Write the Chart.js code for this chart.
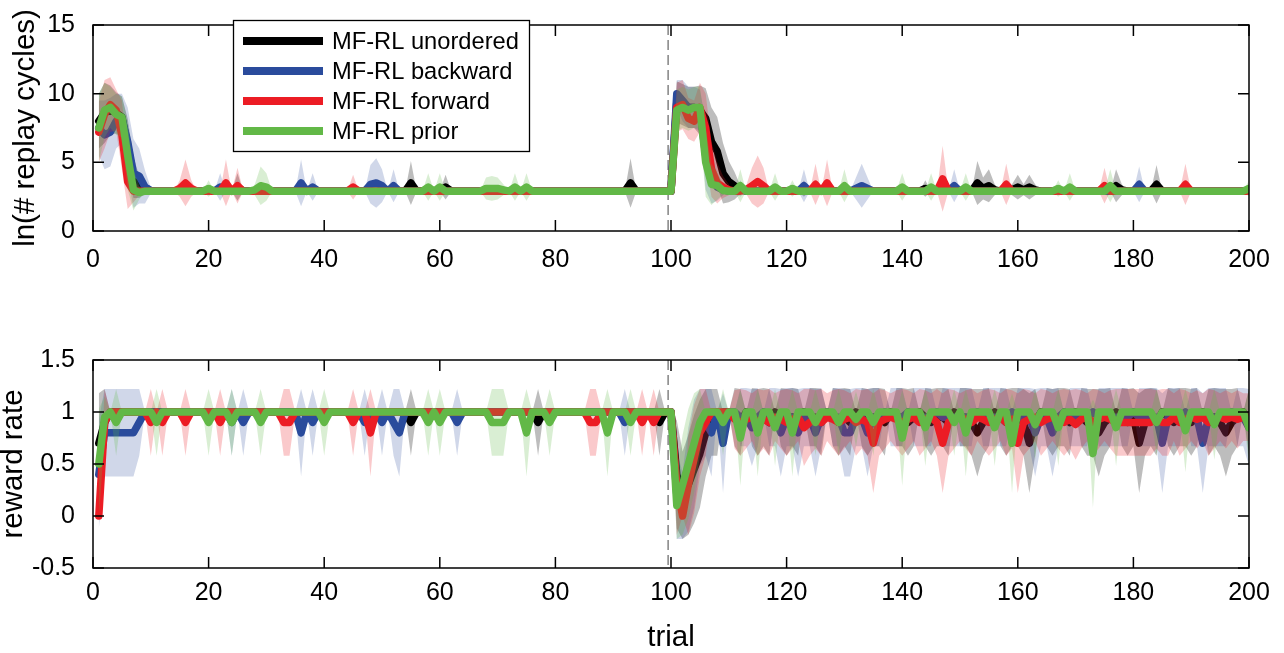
<!DOCTYPE html>
<html><head><meta charset="utf-8">
<script src="https://cdn.jsdelivr.net/npm/chart.js@4.4.1/dist/chart.umd.min.js"></script>
<style>
html,body{margin:0;padding:0;background:#fff;}
#wrap{position:relative;width:1284px;height:653px;overflow:hidden;background:#fff;}
canvas{position:absolute;left:0;}
#c1{top:0;}
#c2{top:300px;}
</style></head><body>
<div id="wrap"><canvas id="c1" width="1284" height="272"></canvas><canvas id="c2" width="1284" height="353"></canvas></div>
<script>
// ---------- DATA ----------
const trials = [1,2,3,4,5,6,7,8,9,10,11,12,13,14,15,16,17,18,19,20,21,22,23,24,25,26,27,28,29,30,31,32,33,34,35,36,37,38,39,40,41,42,43,44,45,46,47,48,49,50,51,52,53,54,55,56,57,58,59,60,61,62,63,64,65,66,67,68,69,70,71,72,73,74,75,76,77,78,79,80,81,82,83,84,85,86,87,88,89,90,91,92,93,94,95,96,97,98,99,100,101,102,103,104,105,106,107,108,109,110,111,112,113,114,115,116,117,118,119,120,121,122,123,124,125,126,127,128,129,130,131,132,133,134,135,136,137,138,139,140,141,142,143,144,145,146,147,148,149,150,151,152,153,154,155,156,157,158,159,160,161,162,163,164,165,166,167,168,169,170,171,172,173,174,175,176,177,178,179,180,181,182,183,184,185,186,187,188,189,190,191,192,193,194,195,196,197,198,199,200];
const trialTicks = [0,20,40,60,80,100,120,140,160,180,200];
const replayTicks = [0,5,10,15];
const rewardTicks = [-0.5,0,0.5,1,1.5];
const boundaryTrial = 99.5;
const seriesNames = ['MF-RL unordered','MF-RL backward','MF-RL forward','MF-RL prior'];

// ln(# replay cycles): means
const replayUnordered = [8.0,8.6,8.8,8.6,8.3,6.2,3.9,3.2,3.0,2.9,
2.9,2.9,2.9,2.9,2.9,2.9,2.9,2.9,2.9,2.9,
2.9,2.9,2.9,2.9,3.2,2.9,2.9,2.9,2.9,2.9,
2.9,2.9,2.9,2.9,2.9,2.9,2.9,2.9,2.9,2.9,
2.9,2.9,2.9,2.9,2.9,2.9,2.9,2.9,2.9,2.9,
2.9,2.9,2.9,2.9,3.5,2.9,2.9,2.9,2.9,2.9,
3.2,2.9,2.9,2.9,2.9,2.9,2.9,2.9,2.9,2.9,
2.9,2.9,2.9,2.9,2.9,2.9,2.9,2.9,2.9,2.9,
2.9,2.9,2.9,2.9,2.9,2.9,2.9,2.9,2.9,2.9,
2.9,2.9,3.5,2.9,2.9,2.9,2.9,2.9,2.9,2.9,
9.4,9.2,9.0,9.0,8.8,8.2,6.5,5.8,4.2,3.6,
3.3,3.0,2.9,2.9,2.9,2.9,2.9,2.9,2.9,2.9,
2.9,2.9,3.1,2.9,2.9,2.9,2.9,2.9,2.9,2.9,
2.9,2.9,2.9,2.9,2.9,2.9,2.9,2.9,2.9,2.9,
2.9,2.9,2.9,3.1,2.9,2.9,2.9,2.9,2.9,2.9,
2.9,2.9,3.5,3.1,3.3,3.0,2.9,2.9,3.0,3.2,
3.0,3.2,3.0,2.9,2.9,2.9,2.9,2.9,2.9,2.9,
2.9,2.9,2.9,2.9,2.9,2.9,3.3,3.0,2.9,2.9,
2.9,2.9,2.9,3.4,2.9,2.9,2.9,2.9,2.9,2.9,
2.9,2.9,2.9,2.9,2.9,2.9,2.9,2.9,2.9,2.9];
const replayBackward = [7.5,7.0,7.2,8.0,8.2,6.5,4.2,4.0,3.2,2.95,
2.9,2.9,2.9,2.9,2.9,2.9,2.9,2.9,2.9,2.9,
2.9,3.2,2.9,2.9,2.9,2.9,2.9,2.9,2.9,2.9,
2.9,2.9,2.9,2.9,2.9,3.5,2.9,3.2,2.9,2.9,
2.9,2.9,2.9,2.9,2.9,2.9,2.9,3.4,3.5,3.3,
2.9,3.3,2.9,2.9,2.9,2.9,2.9,2.9,2.9,2.9,
2.9,2.9,2.9,2.9,2.9,2.9,2.9,2.9,2.9,2.9,
2.9,2.9,2.9,2.9,2.9,2.9,2.9,2.9,2.9,2.9,
2.9,2.9,2.9,2.9,2.9,2.9,2.9,2.9,2.9,2.9,
2.9,2.9,2.9,2.9,2.9,2.9,2.9,2.9,2.9,2.9,
10.0,9.5,9.0,9.0,8.8,5.5,3.8,3.2,3.0,2.9,
2.9,3.1,2.9,2.9,2.9,2.9,2.9,2.9,2.9,2.9,
2.9,2.9,3.3,2.9,2.9,2.9,2.9,2.9,2.9,2.9,
2.9,3.1,3.3,3.1,2.9,2.9,2.9,2.9,2.9,2.9,
2.9,2.9,2.9,2.9,2.9,2.9,2.9,2.9,3.3,2.9,
2.9,2.9,2.9,2.9,2.9,2.9,2.9,2.9,2.9,2.9,
2.9,2.9,2.9,2.9,2.9,2.9,2.9,2.9,2.9,2.9,
2.9,2.9,2.9,2.9,2.9,2.9,2.9,2.9,2.9,2.9,
3.4,2.9,2.9,2.9,2.9,2.9,2.9,2.9,2.9,2.9,
2.9,2.9,2.9,2.9,2.9,2.9,2.9,2.9,2.9,2.9];
const replayForward = [7.2,8.5,9.2,8.8,7.0,3.6,2.9,2.9,2.9,2.9,
2.9,2.9,2.9,2.9,3.1,3.5,3.1,2.9,2.9,2.9,
2.9,2.9,3.5,2.9,3.3,2.9,2.9,2.9,2.9,2.9,
2.9,2.9,2.9,2.9,2.9,2.9,2.9,2.9,2.9,2.9,
2.9,2.9,2.9,2.9,3.2,2.9,2.9,2.9,2.9,2.9,
2.9,2.9,2.9,2.9,2.9,2.9,2.9,2.9,2.9,2.9,
2.9,2.9,2.9,2.9,2.9,2.9,2.9,2.9,2.9,2.9,
2.9,2.9,2.9,2.9,2.9,2.9,2.9,2.9,2.9,2.9,
2.9,2.9,2.9,2.9,2.9,2.9,2.9,2.9,2.9,2.9,
2.9,2.9,2.9,2.9,2.9,2.9,2.9,2.9,2.9,2.9,
9.0,9.2,8.2,8.0,9.0,7.5,4.5,3.5,3.2,3.0,
2.9,2.9,3.0,3.3,3.6,3.3,2.9,2.9,2.9,2.9,
2.9,2.9,2.9,2.9,3.4,2.9,3.5,2.9,2.9,2.9,
2.9,2.9,2.9,2.9,2.9,2.9,2.9,2.9,2.9,2.9,
2.9,2.9,2.9,2.9,2.9,2.9,3.8,2.9,2.9,2.9,
2.9,2.9,2.9,2.9,2.9,2.9,2.9,3.4,2.9,2.9,
2.9,2.9,2.9,2.9,2.9,2.9,2.9,2.9,2.9,2.9,
2.9,2.9,2.9,2.9,3.3,2.9,2.9,2.9,2.9,2.9,
2.9,2.9,2.9,2.9,2.9,2.9,2.9,2.9,3.4,2.9,
2.9,2.9,2.9,2.9,2.9,2.9,2.9,2.9,2.9,2.9];
const replayPrior = [7.5,8.8,9.0,8.5,8.3,5.5,3.0,2.8,2.9,2.9,
2.9,2.9,2.9,2.9,2.9,2.9,2.9,2.9,2.9,3.1,
2.9,2.9,2.9,2.9,2.9,2.9,2.9,3.0,3.3,3.2,
2.9,2.9,2.9,2.9,2.9,2.9,2.9,2.9,2.9,2.9,
2.9,2.9,2.9,2.9,2.9,2.9,2.9,2.9,2.9,2.9,
2.9,2.9,2.9,2.9,2.9,2.9,2.9,3.2,2.9,3.2,
2.9,2.9,2.9,2.9,2.9,2.9,2.9,3.1,3.1,3.1,
3.0,2.9,3.2,2.9,3.2,2.9,2.9,2.9,2.9,2.9,
2.9,2.9,2.9,2.9,2.9,2.9,2.9,2.9,2.9,2.9,
2.9,2.9,2.9,2.9,2.9,2.9,2.9,2.9,2.9,2.9,
8.8,9.0,8.8,9.0,9.0,5.0,3.4,3.3,2.95,2.9,
2.9,3.3,2.9,2.9,2.9,2.9,2.9,3.2,2.9,2.9,
3.1,2.9,2.9,2.9,2.9,2.9,2.9,2.9,2.9,3.3,
2.9,2.9,2.9,2.9,2.9,2.9,2.9,2.9,2.9,3.2,
2.9,2.9,2.9,2.9,3.2,2.9,2.9,2.9,2.9,2.9,
3.2,2.9,2.9,2.9,2.9,2.9,2.9,2.9,2.9,2.9,
2.9,2.9,2.9,2.9,2.9,2.9,3.1,2.9,3.2,2.9,
2.9,2.9,2.9,2.9,2.9,3.3,2.9,2.9,2.9,2.9,
2.9,2.9,2.9,2.9,2.9,2.9,2.9,2.9,2.9,2.9,
2.9,2.9,2.9,2.9,2.9,2.9,2.9,2.9,2.9,3.1];

// ln(# replay cycles): spread (half-width of shaded band)
const replayUnorderedSd = [2.0,2.2,1.8,1.5,1.5,2.0,1.5,0.8,0.3,0,
0,0,0,0,0,0,0,0,0,0,
0,0,0,0,1.0,0,0,0,0,0,
0,0,0,0,0,0,0,0,0,0,
0,0,0,0,0,0,0,0,0,0,
0,0,0,0,1.6,0,0,0,0,0,
0.9,0,0,0,0,0,0,0,0,0,
0,0,0,0,0,0,0,0,0,0,
0,0,0,0,0,0,0,0,0,0,
0,0,1.8,0,0,0,0,0,0,0,
1.5,1.5,1.5,1.5,1.8,2.2,2.5,2.5,2.2,1.5,
1.0,0.3,0,0,0,0,0,0,0,0,
0,0,0.6,0,0,0,0,0,0,0,
0,0,0,0,0,0,0,0,0,0,
0,0,0,0.6,0,0,0,0,0,0,
0,0,1.6,0.8,1.2,0.4,0,0,0.4,0.9,
0.4,0.9,0.4,0,0,0,0,0,0,0,
0,0,0,0,0,0,1.2,0.4,0,0,
0,0,0,1.4,0,0,0,0,0,0,
0,0,0,0,0,0,0,0,0,0];
const replayBackwardSd = [2.0,2.5,2.5,2.0,1.8,2.5,2.5,2.0,1.2,0.2,
0,0,0,0,0,0,0,0,0,0,
0,1.0,0,0,0,0,0,0,0,0,
0,0,0,0,0,1.7,0,1.0,0,0,
0,0,0,0,0,0,0,1.4,1.8,1.2,
0,1.2,0,0,0,0,0,0,0,0,
0,0,0,0,0,0,0,0,0,0,
0,0,0,0,0,0,0,0,0,0,
0,0,0,0,0,0,0,0,0,0,
0,0,0,0,0,0,0,0,0,0,
1.0,1.5,1.5,1.5,1.5,2.5,1.8,1.0,0.4,0,
0,0.6,0,0,0,0,0,0,0,0,
0,0,1.2,0,0,0,0,0,0,0,
0,0.8,1.6,0.8,0,0,0,0,0,0,
0,0,0,0,0,0,0,0,1.2,0,
0,0,0,0,0,0,0,0,0,0,
0,0,0,0,0,0,0,0,0,0,
0,0,0,0,0,0,0,0,0,0,
1.3,0,0,0,0,0,0,0,0,0,
0,0,0,0,0,0,0,0,0,0];
const replayForwardSd = [2.2,2.5,2.0,1.5,2.5,2.0,0.8,0.3,0,0,
0,0,0,0,0.6,1.7,0.6,0,0,0,
0,0,1.7,0,1.3,0,0,0,0,0,
0,0,0,0,0,0,0,0,0,0,
0,0,0,0,0.9,0,0,0,0,0,
0,0,0,0,0,0,0,0,0,0,
0,0,0,0,0,0,0,0,0,0,
0,0,0,0,0,0,0,0,0,0,
0,0,0,0,0,0,0,0,0,0,
0,0,0,0,0,0,0,0,0,0,
1.8,1.8,1.5,1.5,1.8,2.5,2.0,1.5,0.8,0.4,
0,0,0.3,1.3,1.9,1.3,0,0,0,0,
0,0,0,0,1.5,0,1.7,0,0,0,
0,0,0,0,0,0,0,0,0,0,
0,0,0,0,0,0,2.4,0,0,0,
0,0,0,0,0,0,0,1.5,0,0,
0,0,0,0,0,0,0,0,0,0,
0,0,0,0,1.3,0,0,0,0,0,
0,0,0,0,0,0,0,0,1.5,0,
0,0,0,0,0,0,0,0,0,0];
const replayPriorSd = [2.5,2.0,1.5,1.5,1.5,2.5,1.5,0.5,0,0,
0,0,0,0,0,0,0,0,0,0.6,
0,0,0,0,0,0,0,0.4,1.4,1.0,
0,0,0,0,0,0,0,0,0,0,
0,0,0,0,0,0,0,0,0,0,
0,0,0,0,0,0,0,1.0,0,1.0,
0,0,0,0,0,0,0,0.8,0.9,0.8,
0.4,0,1.0,0,1.0,0,0,0,0,0,
0,0,0,0,0,0,0,0,0,0,
0,0,0,0,0,0,0,0,0,0,
1.5,1.5,1.5,1.5,1.5,2.5,1.5,1.0,0.3,0,
0,1.2,0,0,0,0,0,1.0,0,0,
0.6,0,0,0,0,0,0,0,0,1.2,
0,0,0,0,0,0,0,0,0,1.0,
0,0,0,0,1.0,0,0,0,0,0,
1.0,0,0,0,0,0,0,0,0,0,
0,0,0,0,0,0,0.6,0,1.0,0,
0,0,0,0,0,1.2,0,0,0,0,
0,0,0,0,0,0,0,0,0,0,
0,0,0,0,0,0,0,0,0,0.6];

// reward rate: means
const rewardUnordered = [0.7,0.9,1,1,1,1,1,1,1,1,
1,1,1,1,1,1,1,1,1,1,
1,1,1,1,1,1,1,1,1,1,
1,1,1,1,1,1,1,1,1,1,
1,1,1,1,1,1,1,1,1,1,
1,1,1,1,0.9,1,1,1,1,1,
1,1,1,1,1,1,1,1,1,1,
1,1,1,1,1,1,0.9,1,1,1,
1,1,1,1,1,1,1,1,1,1,
1,1,1,1,1,1,1,0.9,1,1,
0.4,0.2,0.3,0.45,0.6,0.8,0.9,0.9,1,1,
0.95,0.9,1,0.95,0.9,0.95,0.9,1,0.95,0.9,
0.95,0.9,1,0.95,0.95,0.9,1,0.95,0.9,0.95,
0.9,1,0.95,0.9,0.95,0.95,0.9,1,0.95,0.95,
0.9,0.95,1,0.95,0.9,0.95,0.95,0.9,1,0.95,
0.95,0.9,0.8,0.9,0.95,1,0.95,0.9,0.95,0.95,
0.9,0.7,0.9,1,0.95,0.9,0.95,0.95,0.9,1,
0.95,0.9,0.9,0.8,0.9,0.95,1,0.95,0.9,0.95,
0.7,0.9,0.95,0.9,1,0.95,0.9,0.95,0.95,0.9,
0.95,1,0.9,0.95,0.9,0.8,0.9,0.95,1,0.9];
const rewardBackward = [0.4,0.8,0.8,0.8,0.8,0.8,0.8,0.9,1,1,
1,1,1,1,1,1,1,1,1,1,
1,1,1,0.9,1,0.9,1,1,1,1,
1,1,1,1,1,0.8,1,0.9,1,1,
1,1,1,1,1,1,0.9,1,1,0.9,
1,0.9,0.8,1,1,1,1,1,1,1,
1,1,0.9,1,1,1,1,1,1,1,
1,1,1,1,1,1,1,1,1,1,
1,1,1,1,1,1,1,1,1,1,
1,0.9,1,1,1,1,1,1,1,1,
0.2,0.1,0.35,0.6,0.85,0.9,0.8,1,0.7,1,
1,0.95,0.95,0.85,0.95,1,0.95,0.95,0.8,0.95,
0.95,0.8,0.95,0.95,0.8,0.95,1,0.95,0.95,0.8,
0.8,0.95,0.95,0.8,0.95,0.95,1,0.95,0.95,0.95,
1,0.95,0.95,0.95,0.95,1,0.95,0.95,0.95,0.95,
0.95,0.95,1,0.95,0.95,0.95,0.95,0.95,1,0.95,
0.95,0.95,0.8,0.95,0.95,0.8,0.95,1,0.95,0.95,
0.95,0.95,1,0.95,0.95,0.95,0.95,0.95,0.95,1,
0.95,0.95,0.95,0.95,0.7,0.95,0.95,0.95,1,0.95,
0.95,0.7,0.95,0.95,0.95,0.95,1,0.95,0.95,0.85];
const rewardForward = [0.0,0.9,1,1,1,1,1,1,1,0.9,
1,0.9,1,1,1,0.9,1,1,1,1,
1,0.9,1,1,1,1,1,1,1,1,
1,1,0.9,0.9,1,1,1,1,1,1,
1,1,1,1,0.9,1,1,0.8,1,1,
1,1,1,1,1,1,1,1,1,1,
1,1,1,1,1,1,1,1,1,1,
1,1,1,1,1,1,1,1,1,1,
1,1,1,1,1,0.9,0.9,1,1,1,
1,1,1,1,0.9,1,0.9,1,1,1,
0.3,0.0,0.3,0.55,0.8,0.9,1,1,1,1,
0.93,0.9,0.93,0.95,0.9,0.93,0.9,0.95,0.93,0.9,
0.93,0.95,0.85,0.9,0.93,0.9,0.95,0.93,0.9,0.93,
0.95,0.9,0.93,0.9,0.7,0.9,0.93,0.95,0.93,0.9,
0.93,0.95,0.9,0.93,0.95,0.9,0.7,0.9,0.93,0.95,
0.93,0.9,0.95,0.93,0.9,0.93,0.95,0.9,0.93,0.7,
0.9,0.93,0.95,0.9,0.93,0.95,0.93,0.9,0.93,0.88,
0.93,0.95,0.9,0.93,0.95,0.93,0.9,0.9,0.9,0.9,
0.9,0.9,0.9,0.93,0.9,0.9,0.95,0.9,0.93,0.95,
0.93,0.95,0.9,0.93,0.95,0.93,0.95,0.93,0.95,0.95];
const rewardPrior = [0.5,0.95,1,0.9,1,1,1,1,1,1,
0.9,1,1,1,1,1,1,1,1,0.9,
1,1,1,0.9,1,1,1,1,0.9,1,
1,1,1,1,1,1,1,1,1,0.9,
1,1,1,1,1,1,1,1,1,1,
1,1,1,1,1,1,1,0.9,1,0.9,
1,1,1,1,1,1,1,1,0.9,0.9,
0.9,1,1,1,0.8,1,1,1,0.9,1,
1,1,1,1,1,1,1,1,0.8,1,
1,1,0.9,1,1,1,1,1,1,1,
0.1,0.3,0.5,0.7,0.9,1,1,1,0.9,1,
1,0.75,1,1,0.8,1,1,0.85,1,1,
0.8,1,1,1,0.9,1,1,1,0.9,1,
1,0.93,1,1,0.9,1,1,1,1,0.75,
1,1,1,0.85,1,1,1,1,0.9,1,
0.8,1,1,1,1,0.85,1,1,0.7,1,
1,1,0.88,1,1,1,0.85,1,1,1,
1,1,0.6,1,1,1,0.85,1,1,1,
1,1,1,0.9,1,1,1,1,0.82,1,
1,1,1,0.88,1,1,1,1,1,0.85];

// reward rate: spread (half-width of shaded band)
const rewardUnorderedSd = [0.48,0.32,0,0,0,0,0,0,0,0,
0,0,0,0,0,0,0,0,0,0,
0,0,0,0,0,0,0,0,0,0,
0,0,0,0,0,0,0,0,0,0,
0,0,0,0,0,0,0,0,0,0,
0,0,0,0,0.32,0,0,0,0,0,
0,0,0,0,0,0,0,0,0,0,
0,0,0,0,0,0,0.32,0,0,0,
0,0,0,0,0,0,0,0,0,0,
0,0,0,0,0,0,0,0.32,0,0,
0.52,0.42,0.48,0.52,0.52,0.42,0.32,0.32,0,0,
0.28,0.32,0,0.28,0.32,0.28,0.32,0,0.28,0.32,
0.28,0.32,0,0.28,0.28,0.32,0,0.28,0.32,0.28,
0.32,0,0.28,0.32,0.28,0.28,0.32,0,0.28,0.28,
0.32,0.28,0,0.28,0.32,0.28,0.28,0.32,0,0.28,
0.28,0.32,0.42,0.32,0.28,0,0.28,0.32,0.28,0.28,
0.32,0.48,0.32,0,0.28,0.32,0.28,0.28,0.32,0,
0.28,0.32,0.32,0.42,0.32,0.28,0,0.28,0.32,0.28,
0.48,0.32,0.28,0.32,0,0.28,0.32,0.28,0.28,0.32,
0.28,0,0.32,0.28,0.32,0.42,0.32,0.28,0,0.32];
const rewardBackwardSd = [0.52,0.42,0.42,0.42,0.42,0.42,0.42,0.32,0,0,
0,0,0,0,0,0,0,0,0,0,
0,0,0,0.32,0,0.32,0,0,0,0,
0,0,0,0,0,0.42,0,0.32,0,0,
0,0,0,0,0,0,0.32,0,0,0.32,
0,0.32,0.42,0,0,0,0,0,0,0,
0,0,0.32,0,0,0,0,0,0,0,
0,0,0,0,0,0,0,0,0,0,
0,0,0,0,0,0,0,0,0,0,
0,0.32,0,0,0,0,0,0,0,0,
0.42,0.32,0.5,0.52,0.37,0.32,0.42,0,0.48,0,
0,0.28,0.28,0.37,0.28,0,0.28,0.28,0.42,0.28,
0.28,0.42,0.28,0.28,0.42,0.28,0,0.28,0.28,0.42,
0.42,0.28,0.28,0.42,0.28,0.28,0,0.28,0.28,0.28,
0,0.28,0.28,0.28,0.28,0,0.28,0.28,0.28,0.28,
0.28,0.28,0,0.28,0.28,0.28,0.28,0.28,0,0.28,
0.28,0.28,0.42,0.28,0.28,0.42,0.28,0,0.28,0.28,
0.28,0.28,0,0.28,0.28,0.28,0.28,0.28,0.28,0,
0.28,0.28,0.28,0.28,0.48,0.28,0.28,0.28,0,0.28,
0.28,0.48,0.28,0.28,0.28,0.28,0,0.28,0.28,0.37];
const rewardForwardSd = [0,0.32,0,0,0,0,0,0,0,0.32,
0,0.32,0,0,0,0.32,0,0,0,0,
0,0.32,0,0,0,0,0,0,0,0,
0,0,0.32,0.32,0,0,0,0,0,0,
0,0,0,0,0.32,0,0,0.42,0,0,
0,0,0,0,0,0,0,0,0,0,
0,0,0,0,0,0,0,0,0,0,
0,0,0,0,0,0,0,0,0,0,
0,0,0,0,0,0.32,0.32,0,0,0,
0,0,0,0,0.32,0,0.32,0,0,0,
0.48,0,0.48,0.52,0.42,0.32,0,0,0,0,
0.28,0.32,0.28,0.23,0.32,0.28,0.32,0.23,0.28,0.32,
0.28,0.23,0.37,0.32,0.28,0.32,0.23,0.28,0.32,0.28,
0.23,0.32,0.28,0.32,0.48,0.32,0.28,0.23,0.28,0.32,
0.28,0.23,0.32,0.28,0.23,0.32,0.48,0.32,0.28,0.23,
0.28,0.32,0.23,0.28,0.32,0.28,0.23,0.32,0.28,0.48,
0.32,0.28,0.23,0.32,0.28,0.23,0.28,0.32,0.28,0.34,
0.28,0.23,0.32,0.28,0.23,0.28,0.32,0.32,0.32,0.32,
0.32,0.32,0.32,0.28,0.32,0.32,0.23,0.32,0.28,0.23,
0.28,0.23,0.32,0.28,0.23,0.28,0.23,0.28,0.23,0.23];
const rewardPriorSd = [0.53,0.2,0,0.32,0,0,0,0,0,0,
0.32,0,0,0,0,0,0,0,0,0.32,
0,0,0,0.32,0,0,0,0,0.32,0,
0,0,0,0,0,0,0,0,0,0.32,
0,0,0,0,0,0,0,0,0,0,
0,0,0,0,0,0,0,0.32,0,0.32,
0,0,0,0,0,0,0,0,0.32,0.32,
0.32,0,0,0,0.42,0,0,0,0.32,0,
0,0,0,0,0,0,0,0,0.42,0,
0,0,0.32,0,0,0,0,0,0,0,
0.32,0.48,0.53,0.48,0.32,0,0,0,0.32,0,
0,0.46,0,0,0.42,0,0,0.37,0,0,
0.42,0,0,0,0.32,0,0,0,0.32,0,
0,0.27,0,0,0.32,0,0,0,0,0.46,
0,0,0,0.37,0,0,0,0,0.32,0,
0.42,0,0,0,0,0.37,0,0,0.48,0,
0,0,0.34,0,0,0,0.37,0,0,0,
0,0,0.52,0,0,0,0.37,0,0,0,
0,0,0,0.32,0,0,0,0,0.4,0,
0,0,0,0.34,0,0,0,0,0,0.37];

// ---------- STYLE ----------
const FONT = '"Liberation Sans", Arial, Helvetica, sans-serif';
Chart.defaults.font.family = FONT;
const lineColors = ['#000000', '#2a4b9c', '#ec1c24', '#62b847'];
const bandColors = ['rgba(0,0,0,0.26)', 'rgba(42,75,156,0.22)', 'rgba(236,28,36,0.24)', 'rgba(98,184,71,0.24)'];

function buildDatasets(means, sds) {
  const sets = [];
  means.forEach((m, s) => {
    const sd = sds[s];
    const ord = (4 - s) * 2 - 1; // prior drawn last (on top)
    sets.push({label: seriesNames[s] + ' upper', data: m.map((v, i) => v + sd[i]), fill: '+1',
      backgroundColor: bandColors[s], borderColor: 'rgba(0,0,0,0)', borderWidth: 0, pointRadius: 0, order: ord + 1});
    sets.push({label: seriesNames[s] + ' lower', data: m.map((v, i) => v - sd[i]), fill: false,
      backgroundColor: 'rgba(0,0,0,0)', borderColor: 'rgba(0,0,0,0)', borderWidth: 0, pointRadius: 0, order: ord + 1});
    sets.push({label: seriesNames[s], data: m, fill: false, borderColor: lineColors[s], backgroundColor: lineColors[s],
      borderWidth: 7.5, pointRadius: 0, tension: 0, borderJoinStyle: 'round', borderCapStyle: 'round', order: ord});
  });
  return sets;
}

const framePlugin = {
  id: 'matlabFrame',
  beforeDatasetsDraw(chart) {
    const {ctx, chartArea: a, scales: {x}} = chart;
    const px = x.getPixelForValue(boundaryTrial);
    ctx.save();
    ctx.strokeStyle = '#707070'; ctx.lineWidth = 1.3; ctx.setLineDash([10, 5]);
    ctx.beginPath(); ctx.moveTo(px, a.top); ctx.lineTo(px, a.bottom); ctx.stroke();
    ctx.restore();
  },
  afterDatasetsDraw(chart) {
    const {ctx, chartArea: a, scales: {x, y}} = chart;
    const L = 11;
    ctx.save();
    ctx.strokeStyle = '#000'; ctx.lineWidth = 1.5; ctx.setLineDash([]);
    ctx.strokeRect(a.left, a.top, a.right - a.left, a.bottom - a.top);
    ctx.beginPath();
    x.ticks.forEach(t => { const p = x.getPixelForValue(t.value);
      ctx.moveTo(p, a.bottom); ctx.lineTo(p, a.bottom - L); ctx.moveTo(p, a.top); ctx.lineTo(p, a.top + L); });
    y.ticks.forEach(t => { const p = y.getPixelForValue(t.value);
      ctx.moveTo(a.left, p); ctx.lineTo(a.left + L, p); ctx.moveTo(a.right, p); ctx.lineTo(a.right - L, p); });
    ctx.stroke();
    ctx.restore();
  }
};

const legendPlugin = {
  id: 'boxLegend',
  afterDraw(chart) {
    const ctx = chart.ctx;
    const bx = 233, by = 20, bw = 296, bh = 131;
    ctx.save();
    ctx.fillStyle = '#fff'; ctx.fillRect(bx, by, bw, bh);
    ctx.strokeStyle = '#000'; ctx.lineWidth = 1.3; ctx.strokeRect(bx + 0.5, by + 0.5, bw, bh);
    ctx.font = '23.7px ' + FONT; ctx.textBaseline = 'middle'; ctx.textAlign = 'left';
    seriesNames.forEach((name, i) => {
      const yy = by + 21 + i * 30;
      ctx.strokeStyle = lineColors[i]; ctx.lineWidth = 8; ctx.lineCap = 'butt';
      ctx.beginPath(); ctx.moveTo(243, yy); ctx.lineTo(323, yy); ctx.stroke();
      ctx.fillStyle = '#000'; ctx.fillText(name, 332, yy + 1);
    });
    ctx.restore();
  }
};

function makeOptions(o) {
  return {
    responsive: false, animation: false,
    layout: {padding: {left: 0, right: 35, top: o.padTop, bottom: 0}},
    plugins: {legend: {display: false}, tooltip: {enabled: false}},
    scales: {
      x: {type: 'linear', min: 0, max: 200,
        afterBuildTicks: s => { s.ticks = trialTicks.map(v => ({value: v})); },
        afterFit: s => { s.height = o.xAxisH; },
        grid: {display: false}, border: {display: false},
        ticks: {font: {size: 25, family: FONT}, color: '#000', padding: o.xTickPad, maxRotation: 0, autoSkip: false, callback: v => String(v)},
        title: o.xTitle ? {display: true, text: o.xTitle, color: '#000', font: {size: 29.5, family: FONT}, padding: {top: 0, bottom: -3}} : {display: false}
      },
      y: {type: 'linear', min: o.yMin, max: o.yMax,
        afterBuildTicks: s => { s.ticks = o.yTicks.map(v => ({value: v})); },
        afterFit: s => { s.width = 93; },
        grid: {display: false}, border: {display: false},
        ticks: {font: {size: 25, family: FONT}, color: '#000', padding: 10, autoSkip: false, callback: v => String(v)},
        title: {display: true, text: o.yTitle, color: '#000', font: {size: 29.5, family: FONT}, padding: {top: o.yTitlePad, bottom: 0}}
      }
    }
  };
}

new Chart(document.getElementById('c1'), {
  type: 'line',
  data: {labels: trials, datasets: buildDatasets([replayUnordered, replayBackward, replayForward, replayPrior],
    [replayUnorderedSd, replayBackwardSd, replayForwardSd, replayPriorSd])},
  options: makeOptions({padTop: 23, xAxisH: 41, xTickPad: 6, yMin: 0, yMax: 15, yTicks: replayTicks, yTitle: 'ln(# replay cycles)', yTitlePad: 8.5}),
  plugins: [framePlugin, legendPlugin]
});

new Chart(document.getElementById('c2'), {
  type: 'line',
  data: {labels: trials, datasets: buildDatasets([rewardUnordered, rewardBackward, rewardForward, rewardPrior],
    [rewardUnorderedSd, rewardBackwardSd, rewardForwardSd, rewardPriorSd])},
  options: makeOptions({padTop: 60, xAxisH: 85, xTickPad: 2, yMin: -0.5, yMax: 1.5, yTicks: rewardTicks, yTitle: 'reward rate', yTitlePad: -3.5, xTitle: 'trial'}),
  plugins: [framePlugin]
});
</script>
</body></html>
